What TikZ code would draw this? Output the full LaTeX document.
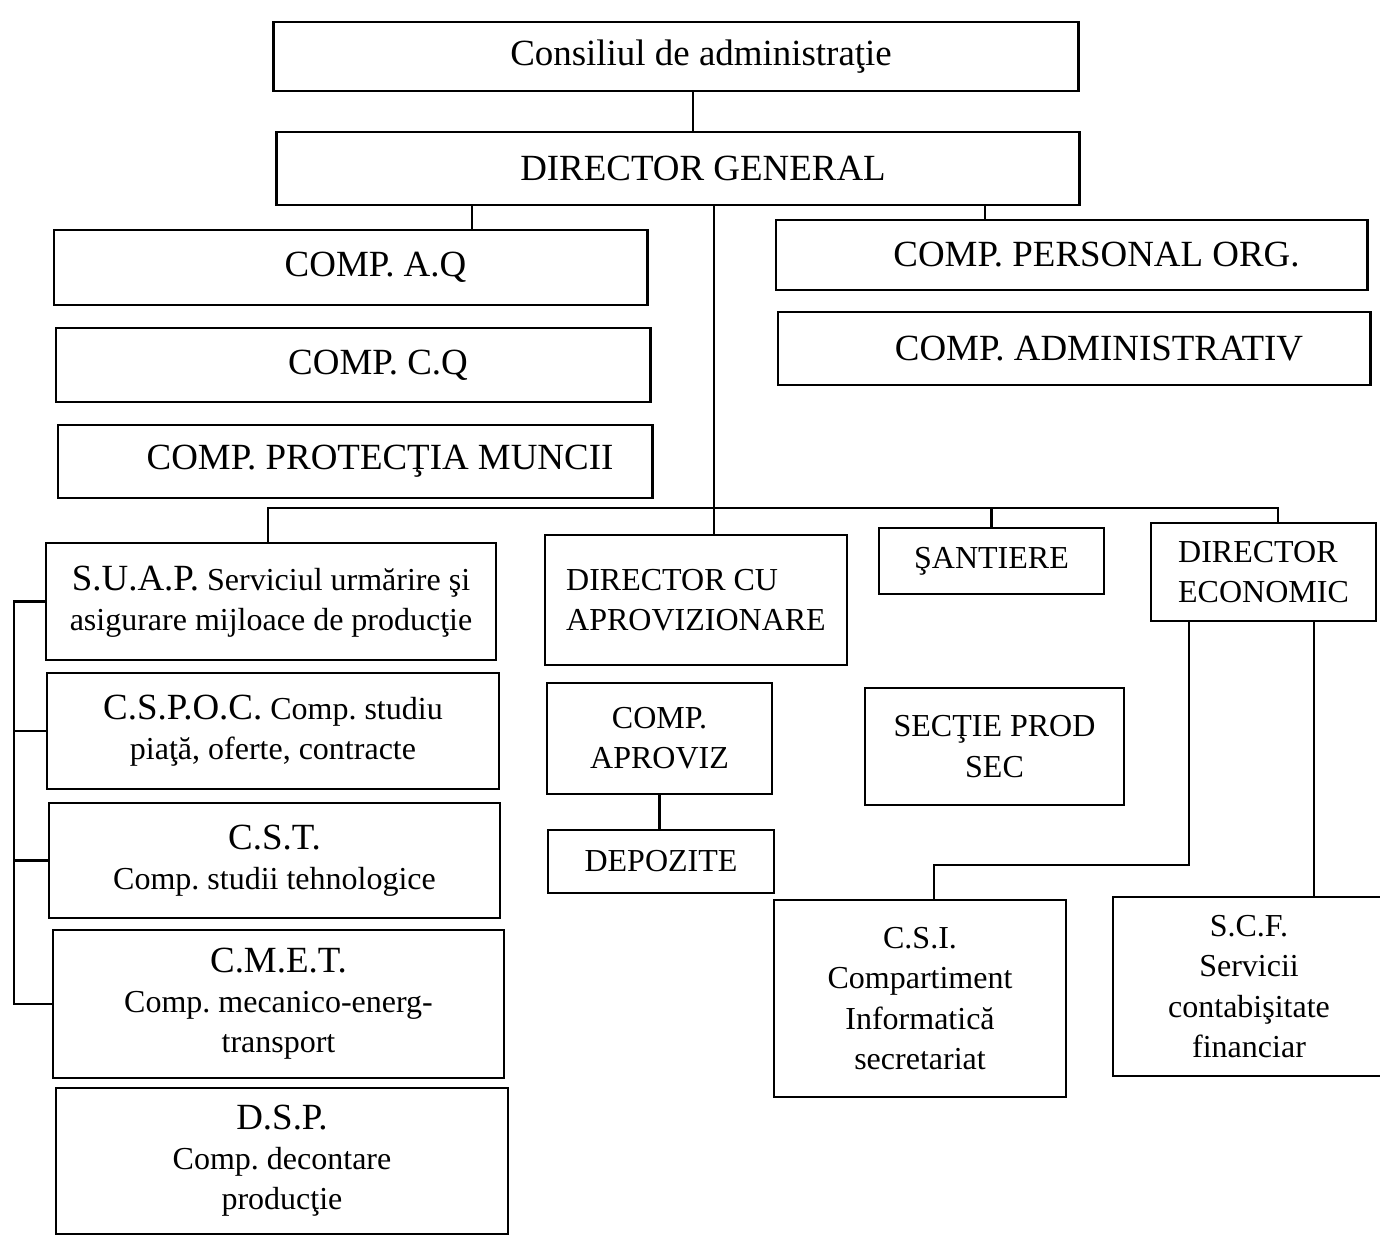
\documentclass[tikz,border=0pt]{standalone}
\usepackage{fontspec}
\setmainfont{Liberation Serif}
\frenchspacing
\newcommand{\ab}{\fontsize{10.5}{11.4}\selectfont}
\tikzset{
  box/.style={draw, line width=0.75pt, inner sep=0pt, align=center, font=\fontsize{9.1}{11.4}\selectfont},
  topbox/.style={draw, line width=0.75pt, inner sep=0pt, font=\fontsize{10.5}{12}\selectfont, execute at begin node={\hspace*{5mm}}},
}
\begin{document}
\begin{tikzpicture}[x=0.01cm, y=-0.01cm, line width=0.75pt]
            \useasboundingbox (0,0) rectangle (1380,1236);
            \draw
            (676,56.5) node[topbox, minimum width=8.04cm, minimum height=0.69cm] (cons) {Consiliul de administraţie}
            (678,168.5) node[topbox, minimum width=8.02cm, minimum height=0.73cm] (dg) {DIRECTOR GENERAL}
            (350.5,267.5) node[topbox, minimum width=5.93cm, minimum height=0.75cm] (aq) {COMP. A.Q}
            (353,365) node[topbox, minimum width=5.94cm, minimum height=0.74cm] (cq) {COMP. C.Q}
            (1071.5,255) node[topbox, minimum width=5.91cm, minimum height=0.70cm] (pers) {COMP. PERSONAL ORG.}
            (1074,348.5) node[topbox, minimum width=5.92cm, minimum height=0.73cm] (adm) {COMP. ADMINISTRATIV}
            (355,461.5) node[topbox, minimum width=5.94cm, minimum height=0.73cm] (prot) {COMP. PROTECŢIA MUNCII};

            \draw
            (271,601.5) node[box, minimum width=4.50cm, minimum height=1.17cm] (suap) {{\ab S.U.A.P.} Serviciul urmărire şi\\asigurare mijloace de producţie}
            (273,731) node[box, minimum width=4.52cm, minimum height=1.16cm] (cspoc) {{\ab C.S.P.O.C.} Comp. studiu\\piaţă, oferte, contracte}
            (274.5,860.5) node[box, minimum width=4.51cm, minimum height=1.15cm] (cst) {{\ab C.S.T.}\\Comp. studii tehnologice}
            (278.5,1004) node[box, minimum width=4.51cm, minimum height=1.48cm] (cmet) {{\ab C.M.E.T.}\\Comp. mecanico-energ-\\transport}
            (282,1161) node[box, minimum width=4.52cm, minimum height=1.46cm] (dsp) {{\ab D.S.P.}\\Comp. decontare\\producţie};

            \draw
            (696,600) node[box, align=left, minimum width=3.02cm, minimum height=1.30cm] (dca) {DIRECTOR CU\\APROVIZIONARE}
            (659.5,738.5) node[box, minimum width=2.25cm, minimum height=1.11cm] (capr) {COMP.\\APROVIZ}
            (661,861.5) node[box, minimum width=2.26cm, minimum height=0.63cm] (dep) {DEPOZITE}
            (991.5,561) node[box, minimum width=2.25cm, minimum height=0.66cm] (sant) {ŞANTIERE}
            (994.5,746.5) node[box, minimum width=2.59cm, minimum height=1.17cm] (sps) {SECŢIE PROD\\SEC}
            (1263.5,572) node[box, align=left, minimum width=2.25cm, minimum height=0.98cm] (dec) {DIRECTOR\\ECONOMIC}
            (920,998.5) node[box, minimum width=2.92cm, minimum height=1.97cm] (csi) {C.S.I.\\Compartiment\\Informatică\\secretariat}
            (1249,986.5) node[box, minimum width=2.72cm, minimum height=1.79cm] (scf) {S.C.F.\\Servicii\\contabişitate\\financiar};

            % points where the lines leave the boxes
            \coordinate (c1) at (693,0);
            \coordinate (c2) at (472,0);
            \coordinate (c3) at (714,0);
            \coordinate (c4) at (985,0);
            \coordinate (busL) at (268,508);
            \coordinate (busR) at (1278,508);
            \coordinate (brk) at (14,0);
            \coordinate (e1) at (1189,865);
            \coordinate (e2) at (934,865);
            \coordinate (e3) at (1314,0);

            \draw (cons.south -| c1) -- (dg.north -| c1);
            \draw (dg.south -| c2) -- (aq.north -| c2);
            \draw (dg.south -| c4) -- (pers.north -| c4);
            \draw (dg.south -| c3) -- (dca.north -| c3);
            \draw (suap.north -| busL) -- (busL) -- (busR) -- (dec.north -| busR);
            \draw (sant.north) -- (sant.north |- busL);
            \draw (suap.west) -- (suap.west -| brk) -- (cmet.west -| brk) -- (cmet.west);
            \draw (cspoc.west -| brk) -- (cspoc.west);
            \draw (cst.west -| brk) -- (cst.west);
            \draw (capr.south) -- (capr.south |- dep.north);
            \draw (dec.south -| e1) -- (e1) -- (e2) -- (csi.north -| e2);
            \draw (dec.south -| e3) -- (scf.north -| e3);
\end{tikzpicture}
\end{document}
